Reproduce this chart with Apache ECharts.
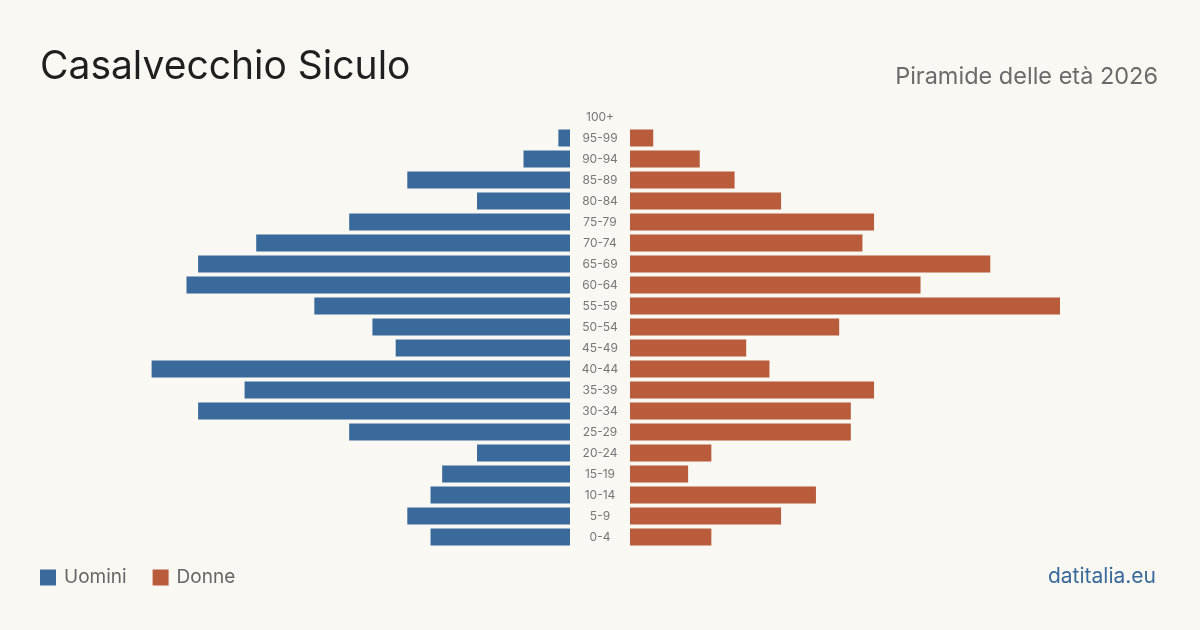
<!DOCTYPE html>
<html>
<head>
<meta charset="utf-8">
<script src="https://cdn.jsdelivr.net/npm/echarts@6/dist/echarts.min.js"></script>
<style>
  html, body { margin: 0; padding: 0; background: #f9f8f3; }
  #chart { width: 1200px; height: 630px; }
</style>
</head>
<body>
<div id="chart"></div>
<script>
// classi di età, dal basso verso l'alto
const ages = ["0-4", "5-9", "10-14", "15-19", "20-24", "25-29", "30-34", "35-39", "40-44", "45-49",
  "50-54", "55-59", "60-64", "65-69", "70-74", "75-79", "80-84", "85-89", "90-94", "95-99", "100+"];
const uomini = [12, 14, 12, 11, 8, 19, 32, 28, 36, 15, 17, 22, 33, 32, 27, 19, 8, 14, 4, 1, 0];
const donne = [7, 13, 16, 5, 7, 19, 19, 21, 12, 10, 18, 37, 25, 31, 20, 21, 13, 9, 6, 2, 0];
const maxVal = 37;

const font = "Inter, 'Noto Sans', sans-serif";
const blu = "#3a6a9b";
const rosso = "#b85c3b";

const chart = echarts.init(document.getElementById("chart"));
const option = {
  backgroundColor: "#f9f8f3",
  animation: false,
  textStyle: { fontFamily: font },
  legend: {
    data: ["Uomini", "Donne"],
    left: 35,
    top: 563,
    icon: "rect",
    itemWidth: 16,
    itemHeight: 16,
    itemGap: 26,
    textStyle: { color: "#666", fontSize: 19, fontFamily: font, padding: [0, 0, 0, 3] },
  },
  graphic: [
    {
      type: "text",
      left: 40,
      top: 48,
      style: { text: "Casalvecchio Siculo", fill: "#1f1f1f", font: "39px " + font },
    },
    {
      type: "text",
      right: 42,
      top: 65,
      style: { text: "Piramide delle età 2026", fill: "#6b6b6b", font: "23.5px " + font },
    },
    {
      type: "text",
      right: 44,
      top: 566,
      style: { text: "datitalia.eu", fill: "#3a6a9b", font: "21px " + font },
    },
  ],
  grid: [
    { left: 140, width: 430, top: 106.5, height: 441 },
    { left: 630, width: 430, top: 106.5, height: 441 },
  ],
  xAxis: [
    { gridIndex: 0, type: "value", min: 0, max: maxVal, inverse: true, show: false },
    { gridIndex: 1, type: "value", min: 0, max: maxVal, show: false },
  ],
  yAxis: [
    {
      gridIndex: 0, type: "category", data: ages, show: false,
    },
    {
      gridIndex: 1,
      type: "category",
      data: ages,
      position: "left",
      axisLine: { show: false },
      axisTick: { show: false },
      axisLabel: { color: "#777", fontSize: 12, align: "center", margin: 30, fontFamily: font },
    },
  ],
  series: [
    {
      name: "Uomini",
      type: "bar",
      xAxisIndex: 0,
      yAxisIndex: 0,
      barWidth: 17,
      itemStyle: { color: blu },
      data: uomini,
    },
    {
      name: "Donne",
      type: "bar",
      xAxisIndex: 1,
      yAxisIndex: 1,
      barWidth: 17,
      itemStyle: { color: rosso },
      data: donne,
    },
  ],
};
chart.setOption(option);
</script>
</body>
</html>
